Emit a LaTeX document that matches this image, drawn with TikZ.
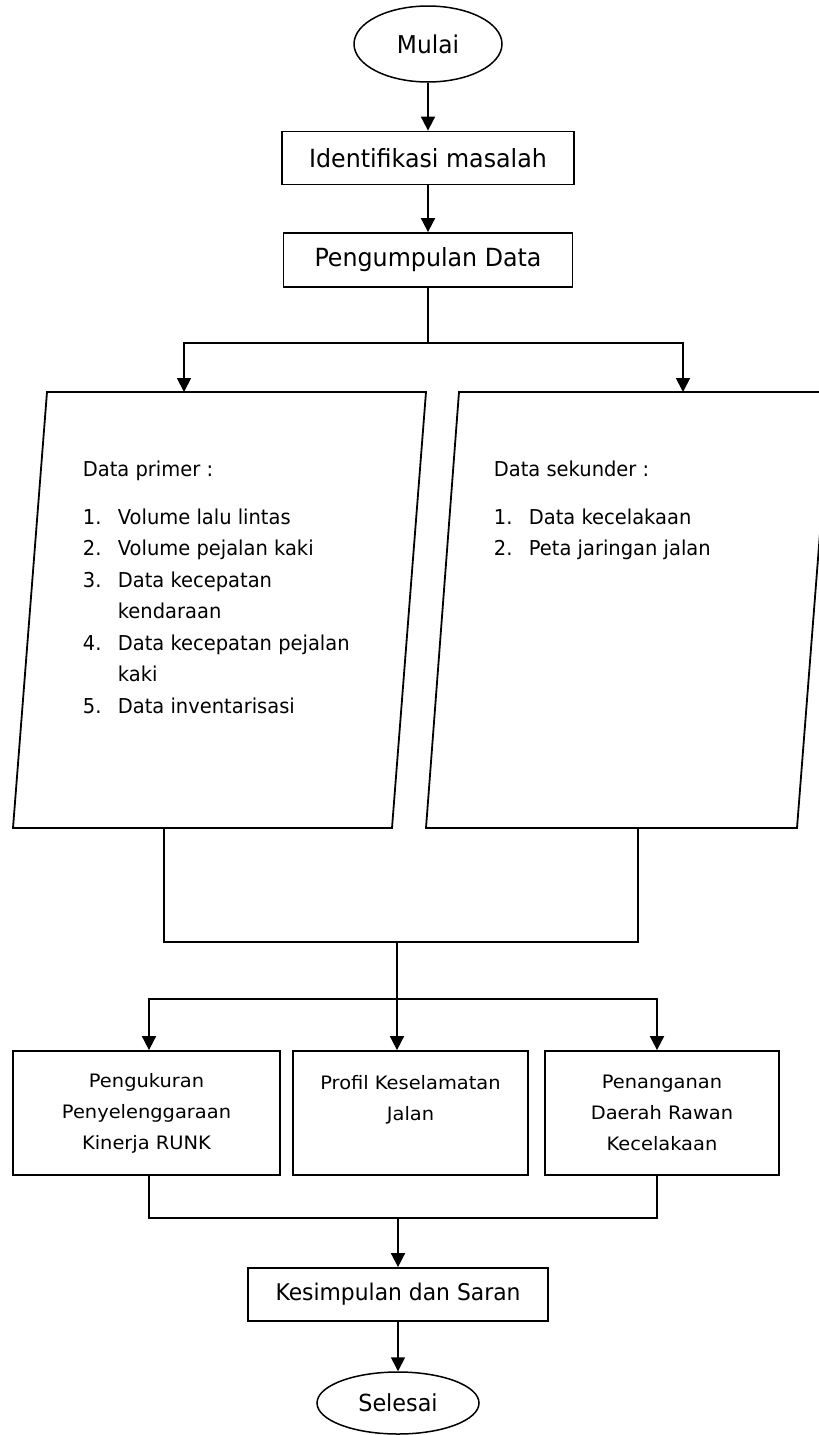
\documentclass[tikz,border=0pt]{standalone}
\usepackage{fontspec}
\setmainfont{DejaVu Sans}[FakeStretch=0.95]
\newfontfamily\kotakfont{DejaVu Sans}[FakeStretch=1.05]
\usepackage{tikz}
\usetikzlibrary{positioning,arrows.meta,shapes.geometric}
\newcommand{\butir}[1]{\makebox[35pt][l]{#1}}

\begin{document}
\begin{tikzpicture}[x=1pt,y=-1pt,line width=1.8pt,
  every node/.style={inner sep=0pt},
  terminal/.style={ellipse,draw,line width=1.5pt,font=\fontsize{24.5}{30}\selectfont},
  proses/.style={rectangle,draw,font=\fontsize{25}{30}\selectfont},
  hasil/.style={rectangle,draw,align=center,minimum height=124pt,
    font=\kotakfont\fontsize{18.5}{31}\selectfont},
  daftar/.style={anchor=north west,align=left,font=\fontsize{20.5}{31.5}\selectfont},
  panah/.style={-{Triangle[length=14pt,width=14pt]}}]
\useasboundingbox (0,0) rectangle (819,1435);
\clip (0,0) rectangle (819,1435);

\node[terminal,minimum width=148pt,minimum height=76pt] (mulai) at (428,44) {Mulai};
\node[proses,minimum width=292pt,minimum height=53pt] (idm) at (428,158) {Identifikasi masalah};
\node[proses,minimum width=289pt,minimum height=54pt] (pd) at (428,260) {Pengumpulan Data};
\draw[panah] (mulai) -- (idm);
\draw[panah] (idm) -- (pd);

\coordinate (cabang) at (428,343);
\coordinate (primer-in) at (184,392);
\coordinate (sekunder-in) at (683,392);
\draw (pd) -- (cabang);
\draw[panah] (cabang) -| (primer-in);
\draw[panah] (cabang) -| (sekunder-in);

\draw (47,392) -- (426,392) -- (392,828) -- (13,828) -- cycle;
\draw (459,392) -- (831,392) -- (797,828) -- (426,828) -- cycle;
\node[daftar] (isiprimer) at (82,460) {%
  Data primer :\\[16.5pt]
  \butir{1.}Volume lalu lintas\\
  \butir{2.}Volume pejalan kaki\\
  \butir{3.}Data kecepatan\\
  \butir{}kendaraan\\
  \butir{4.}Data kecepatan pejalan\\
  \butir{}kaki\\
  \butir{5.}Data inventarisasi};
\node[daftar] (isisekunder) at (493,460) {%
  Data sekunder :\\[16.5pt]
  \butir{1.}Data kecelakaan\\
  \butir{2.}Peta jaringan jalan};

\coordinate (primer-out) at (164,828);
\coordinate (sekunder-out) at (638,828);
\coordinate (gabung) at (397,942);
\coordinate (cabang2) at (397,999);
\draw (primer-out) |- (gabung) -| (sekunder-out);
\draw (gabung) -- (cabang2);

\node[hasil,minimum width=267pt] (ukur) at (146.5,1113) {Pengukuran\\Penyelenggaraan\\Kinerja RUNK};
\node[hasil,minimum width=235pt] (profil) at (410.5,1113) {Profil Keselamatan\\Jalan\\~};
\node[hasil,minimum width=234pt] (tangan) at (662,1113) {Penanganan\\Daerah Rawan\\Kecelakaan};
\draw[panah] (cabang2) -| ([xshift=2.5pt]ukur.north);
\draw[panah] (cabang2) -- (cabang2 |- profil.north);
\draw[panah] (cabang2) -| ([xshift=-5pt]tangan.north);

\coordinate (gabung2) at (398,1218);
\node[proses,minimum width=300pt,minimum height=53pt,font=\fontsize{23}{30}\selectfont] (simpul) at (398,1294.5) {Kesimpulan dan Saran};
\node[terminal,minimum width=162pt,minimum height=62pt,font=\fontsize{23.5}{30}\selectfont] (selesai) at (398,1403) {Selesai};
\draw ([xshift=2.5pt]ukur.south) |- (gabung2) -| ([xshift=-5pt]tangan.south);
\draw[panah] (gabung2) -- (simpul);
\draw[panah] (simpul) -- (selesai);
\end{tikzpicture}
\end{document}
